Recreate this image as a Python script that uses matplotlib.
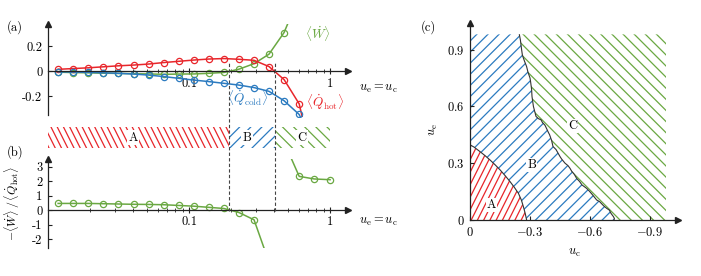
import numpy as np
import matplotlib
matplotlib.use("Agg")
import matplotlib.pyplot as plt
import matplotlib.hatch as mhatch
from matplotlib.path import Path
from matplotlib.lines import Line2D
from matplotlib.transforms import blended_transform_factory

# ---- data ----
u = [0.0118, 0.0151, 0.0193, 0.0247, 0.0316, 0.0405, 0.0516, 0.0661, 0.0845, 0.108,
     0.138, 0.177, 0.226, 0.289, 0.369, 0.472, 0.604, 0.773, 1.0]
q_hot = [0.016, 0.022, 0.028, 0.036, 0.044, 0.050, 0.058, 0.070, 0.080, 0.090,
         0.098, 0.102, 0.096, 0.088, 0.038, -0.066, -0.26, -0.78, -1.6]
q_cold = [-0.004, -0.006, -0.008, -0.012, -0.016, -0.022, -0.030, -0.042, -0.056, -0.070,
          -0.082, -0.096, -0.110, -0.130, -0.160, -0.235, -0.345, -0.6, -0.9]
work = [-0.007, -0.010, -0.012, -0.015, -0.017, -0.019, -0.021, -0.024, -0.022, -0.021,
        -0.016, -0.009, 0.017, 0.061, 0.137, 0.31, 0.60, 1.65, 2.2]
efficiency = [0.46, 0.46, 0.46, 0.44, 0.42, 0.40, 0.39, 0.37, 0.32, 0.27,
              0.19, 0.11, -0.17, -0.67, -3.6, 4.7, 2.33, 2.15, 2.1]

# regime boundaries along u_e = u_c
u_ab = 0.193
u_bc = 0.407
u_min, u_max = 0.01, 1.0

# phase diagram boundaries (u_c, u_e)
ab_uc = [0.0, -0.02, -0.05, -0.075, -0.10, -0.125, -0.15, -0.175, -0.20, -0.222,
         -0.242, -0.257, -0.267, -0.276, -0.283]
ab_ue = [0.397, 0.385, 0.361, 0.34, 0.317, 0.292, 0.265, 0.235, 0.203, 0.172,
         0.141, 0.105, 0.07, 0.035, 0.0]
bc_uc = [-0.247, -0.252, -0.258, -0.262, -0.272, -0.283, -0.290, -0.300, -0.303, -0.308,
         -0.310, -0.317, -0.330, -0.342, -0.355, -0.362, -0.375, -0.385, -0.392, -0.398,
         -0.408, -0.415, -0.430, -0.450, -0.458, -0.475, -0.490, -0.500, -0.508, -0.522,
         -0.533, -0.548, -0.560, -0.583, -0.597, -0.615, -0.633, -0.648, -0.668, -0.683,
         -0.697, -0.705, -0.717, -0.722, -0.720]
bc_ue = [0.978, 0.95, 0.90, 0.87, 0.84, 0.81, 0.78, 0.75, 0.73, 0.69,
         0.652, 0.60, 0.547, 0.535, 0.529, 0.515, 0.50, 0.478, 0.462, 0.45,
         0.42, 0.388, 0.372, 0.335, 0.322, 0.30, 0.287, 0.273, 0.258, 0.24,
         0.22, 0.203, 0.185, 0.167, 0.152, 0.13, 0.106, 0.097, 0.075, 0.062,
         0.052, 0.035, 0.018, 0.008, 0.0]
grid_max = 0.98

RED = "#e8262b"
BLUE = "#2c7bc0"
GREEN = "#6aa842"
AXC = "#222222"


# slanted hatch lines with own spacing: char -> (lines per tile, slope)
HATCH_LINES = {'/': (9, 1.0), '\\': (9, -1.0), '|': (16, 2.0), '-': (16, -2.0)}


class SlantHatch(mhatch.HatchPatternBase):
    def __init__(self, hatch, density):
        self.sets = [HATCH_LINES[c] for c in sorted(set(hatch)) if c in HATCH_LINES]
        self.num_vertices = sum(2 * (4 * n + 1) for n, _ in self.sets)

    def set_vertices_and_codes(self, vertices, codes):
        i = 0
        for n, slope in self.sets:
            for k in range(-2 * n, 2 * n + 1):
                x0 = k / n
                vertices[i] = (x0, 0.0)
                vertices[i + 1] = (x0 + 1.0 / slope, 1.0)
                codes[i] = Path.MOVETO
                codes[i + 1] = Path.LINETO
                i += 2


mhatch._hatch_types = [SlantHatch]

plt.rcParams['font.family'] = 'cmr10'
plt.rcParams['mathtext.fontset'] = 'cm'
plt.rcParams['axes.formatter.use_mathtext'] = True
plt.rcParams['hatch.linewidth'] = 0.9
plt.rcParams['axes.unicode_minus'] = False

W, H = 701, 276
fig = plt.figure(figsize=(W / 100, H / 100), dpi=100)


def px_axes(x0, y_top, x1, y_bot):
    return fig.add_axes([x0 / W, 1 - y_bot / H, (x1 - x0) / W, (y_bot - y_top) / H])


def arrow_axes(ax):
    for s in ['top', 'right']:
        ax.spines[s].set_visible(False)
    for s in ['left', 'bottom']:
        ax.spines[s].set_color(AXC)
        ax.spines[s].set_linewidth(0.9)
    ax.plot(1, 0, '>', color=AXC, ms=4, transform=ax.get_yaxis_transform(), clip_on=False)
    ax.plot(0, 1, '^', color=AXC, ms=4, transform=ax.transAxes, clip_on=False)


mk = dict(marker='o', mfc='none', ms=4.5, mew=0.9, lw=1.1)

# ---- (a) ----
ax_a = px_axes(48, 24, 348, 117)
ax_a.set_xscale('log')
ax_a.plot(u, work, color=GREEN, **mk)
ax_a.plot(u, q_hot, color=RED, **mk)
ax_a.plot(u, q_cold, color=BLUE, **mk)
ax_a.set_xlim(u_min, 1.34)
ax_a.set_ylim(-0.365, 0.378)
arrow_axes(ax_a)
ax_a.spines['bottom'].set_position(('data', 0))
ax_a.spines['left'].set_bounds(-0.35, 0.378)
ax_a.set_yticks([-0.2, 0, 0.2], labels=['-0.2', '0', '0.2'])
ax_a.set_xticks([0.1, 1], labels=['0.1', '1'])
ax_a.xaxis.set_minor_locator(matplotlib.ticker.LogLocator(subs=np.arange(2, 10)))
ax_a.xaxis.set_minor_formatter(matplotlib.ticker.NullFormatter())
ax_a.tick_params(axis='y', direction='in', length=3, pad=4, labelsize=9, color=AXC)
ax_a.tick_params(axis='x', which='both', direction='inout', length=4, pad=3, labelsize=9, color=AXC)
ax_a.tick_params(axis='x', which='minor', length=3)
ax_a.text(0.665, 0.306, r'$\langle\dot{W}\rangle$', color=GREEN, fontsize=9.5, ha='left', va='center')
ax_a.text(0.262, -0.214, r'$\langle\dot{Q}_{\mathrm{cold}}\rangle$', color=BLUE, fontsize=9.5,
          ha='center', va='center')
ax_a.text(0.93, -0.242, r'$\langle\dot{Q}_{\mathrm{hot}}\rangle$', color=RED, fontsize=9.5,
          ha='center', va='center')

# ---- regime band ----
ax_band = px_axes(48, 127, 348, 148)
ax_band.set_xscale('log')
ax_band.set_xlim(u_min, 1.34)
ax_band.set_ylim(0, 1)
ax_band.axis('off')
ax_band.axvspan(u_min, u_ab, facecolor='none', edgecolor=RED, hatch='-', lw=0)
ax_band.axvspan(u_ab, u_bc, facecolor='none', edgecolor=BLUE, hatch='/', lw=0)
ax_band.axvspan(u_bc, u_max, facecolor='none', edgecolor=GREEN, hatch='\\', lw=0)
for xl, lab in [(0.040, 'A'), (0.258, 'B'), (0.633, 'C')]:
    ax_band.text(xl, 0.5, lab, fontsize=9, ha='center', va='center',
                 bbox=dict(facecolor='white', edgecolor='none', pad=1.0))

# ---- (b) ----
ax_b = px_axes(48, 159, 348, 248)
ax_b.set_xscale('log')
split = int(np.argmax(np.array(q_hot) < 0))
ax_b.plot(u[:split], efficiency[:split], color=GREEN, **mk)
ax_b.plot(u[split:], efficiency[split:], color=GREEN, **mk)
ax_b.set_xlim(u_min, 1.34)
ax_b.set_ylim(-2.62, 3.53)
arrow_axes(ax_b)
ax_b.spines['bottom'].set_position(('data', 0))
ax_b.set_yticks([-2, -1, 0, 1, 2, 3], labels=['-2', '-1', '0', '1', '2', '3'])
ax_b.set_xticks([0.1, 1], labels=['0.1', '1'])
ax_b.xaxis.set_minor_locator(matplotlib.ticker.LogLocator(subs=np.arange(2, 10)))
ax_b.xaxis.set_minor_formatter(matplotlib.ticker.NullFormatter())
ax_b.tick_params(axis='y', direction='in', length=3, pad=4, labelsize=9, color=AXC)
ax_b.tick_params(axis='x', which='both', direction='inout', length=4, pad=2, labelsize=9, color=AXC)
ax_b.tick_params(axis='x', which='minor', length=3)
ax_b.set_ylabel(r'$-\langle\dot{W}\rangle\,/\,\langle\dot{Q}_{\mathrm{hot}}\rangle$', fontsize=8.5)
ax_b.yaxis.set_label_coords(-0.085, 0.5)

# dashed separators crossing (a), band and (b)
trans = blended_transform_factory(ax_a.transData, fig.transFigure)
for xb in [u_ab, u_bc]:
    fig.add_artist(Line2D([xb, xb], [1 - 211 / H, 1 - 61 / H], transform=trans,
                          color='#444444', lw=0.8, ls=(0, (3, 2))))

fig.text(359 / W, 1 - 89 / H, r'$u_{\mathrm{e}} = u_{\mathrm{c}}$', fontsize=9, ha='left', va='center')
fig.text(359 / W, 1 - 222 / H, r'$u_{\mathrm{e}} = u_{\mathrm{c}}$', fontsize=9, ha='left', va='center')

# ---- (c) ----
ax_c = px_axes(470, 23, 678, 220)
a_x = ab_uc + [0.0]
a_y = ab_ue + [0.0]
b_x = [0.0, bc_uc[0]] + bc_uc + [ab_uc[-1]] + ab_uc[::-1]
b_y = [grid_max, grid_max] + bc_ue + [0.0] + ab_ue[::-1]
c_x = [bc_uc[0], -grid_max, -grid_max] + bc_uc[::-1]
c_y = [grid_max, grid_max, 0.0] + bc_ue[::-1]
ax_c.fill(a_x, a_y, facecolor='none', edgecolor=RED, hatch='|', lw=0)
ax_c.fill(b_x, b_y, facecolor='none', edgecolor=BLUE, hatch='/', lw=0)
ax_c.fill(c_x, c_y, facecolor='none', edgecolor=GREEN, hatch='\\', lw=0)
ax_c.plot(ab_uc, ab_ue, color='#333333', lw=0.8)
ax_c.plot(bc_uc, bc_ue, color='#333333', lw=0.8)
ax_c.set_xlim(0, -1.04)
ax_c.set_ylim(0, 1.04)
arrow_axes(ax_c)
ax_c.set_xticks([0, -0.3, -0.6, -0.9], labels=[r'$0$', r'$-0.3$', r'$-0.6$', r'$-0.9$'])
ax_c.set_yticks([0, 0.3, 0.6, 0.9], labels=[r'$0$', r'$0.3$', r'$0.6$', r'$0.9$'])
ax_c.tick_params(direction='in', length=3, pad=4, labelsize=9, color=AXC)
for xl, yl, lab in [(-0.108, 0.079, 'A'), (-0.308, 0.291, 'B'), (-0.513, 0.497, 'C')]:
    ax_c.text(xl, yl, lab, fontsize=9, ha='center', va='center',
              bbox=dict(facecolor='white', edgecolor='none', pad=0.8))
ax_c.set_xlabel(r'$u_{\mathrm{c}}$', fontsize=9)
ax_c.set_ylabel(r'$u_{\mathrm{e}}$', fontsize=9)
ax_c.xaxis.set_label_coords(0.5, -0.135)
ax_c.yaxis.set_label_coords(-0.144, 0.457)

fig.text(15 / W, 1 - 27 / H, '(a)', fontsize=9, ha='center', va='center')
fig.text(15 / W, 1 - 152 / H, '(b)', fontsize=9, ha='center', va='center')
fig.text(428 / W, 1 - 27 / H, '(c)', fontsize=9, ha='center', va='center')

fig.savefig('out.png', dpi=100)
